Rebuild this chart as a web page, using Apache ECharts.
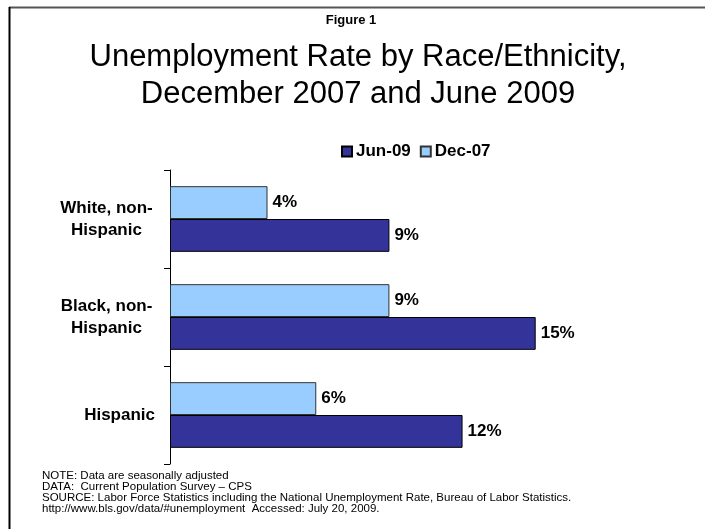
<!DOCTYPE html>
<html>
<head>
<meta charset="utf-8">
<style>
  html, body { margin: 0; padding: 0; background: #fff; }
  #chart { width: 705px; height: 529px; }
</style>
<script src="https://cdn.jsdelivr.net/npm/echarts@6/dist/echarts.min.js"></script>
</head>
<body>
<div id="chart"></div>
<script>
// Unemployment rate (%) by race/ethnicity
const categories = ['White, non-\nHispanic', 'Black, non-\nHispanic', 'Hispanic'];
const seriesNames = ['Jun-09', 'Dec-07'];
const jun09 = [9, 15, 12];
const dec07 = [4, 9, 6];
const noteLines = [
  'NOTE: Data are seasonally adjusted',
  'DATA:  Current Population Survey \u2013 CPS',
  'SOURCE: Labor Force Statistics including the National Unemployment Rate, Bureau of Labor Statistics.',
  'http://www.bls.gov/data/#unemployment  Accessed: July 20, 2009.'
];

const FONT = 'Liberation Sans, Arial, Helvetica, sans-serif';

const chart = echarts.init(document.getElementById('chart'), null, { renderer: 'canvas' });

const valueLabel = {
  show: true,
  position: 'right',
  distance: 5,
  formatter: p => p.value + '%',
  fontFamily: FONT,
  fontWeight: 'bold',
  fontSize: 17,
  color: '#000'
};

chart.setOption({
  backgroundColor: '#fff',
  animation: false,
  title: [
    {
      text: 'Figure 1',
      left: 351, top: 14, padding: 0,
      textAlign: 'center',
      textStyle: { fontFamily: FONT, fontWeight: 'bold', fontSize: 13, color: '#000', lineHeight: 13 }
    },
    {
      text: 'Unemployment Rate by Race/Ethnicity,\nDecember 2007 and June 2009',
      left: 358, top: 39, padding: 0,
      textAlign: 'center',
      textStyle: { fontFamily: FONT, fontWeight: 'normal', fontSize: 31, color: '#000', lineHeight: 37 }
    },
    {
      text: noteLines.join('\n'),
      left: 42, top: 470, padding: 0,
      textStyle: { fontFamily: FONT, fontWeight: 'normal', fontSize: 11.5, color: '#000', lineHeight: 11 }
    }
  ],
  legend: {
    data: seriesNames,
    left: 341, top: 143,
    padding: 0,
    itemWidth: 10, itemHeight: 10,
    itemGap: 9,
    icon: 'rect',
    textStyle: { fontFamily: FONT, fontWeight: 'bold', fontSize: 17, color: '#000', padding: [0, 0, 0, -1] }
  },
  grid: { left: 170, top: 170, height: 294, width: 487.6, containLabel: false },
  xAxis: {
    type: 'value', min: 0, max: 20,
    show: false
  },
  yAxis: {
    type: 'category',
    data: categories,
    inverse: true,
    axisLine: { show: true, lineStyle: { color: '#000', width: 1 } },
    axisTick: { show: true, length: 6, lineStyle: { color: '#000' } },
    axisLabel: {
      margin: 15,
      align: 'right',
      fontFamily: FONT, fontWeight: 'bold', fontSize: 17, color: '#000',
      formatter: v => v.indexOf('\n') >= 0
        ? v.split('\n').map(s => '{c|' + s + '}').join('\n')
        : '{s|' + v + '}',
      rich: {
        c: { width: 97, align: 'center', fontFamily: FONT, fontWeight: 'bold', fontSize: 17, lineHeight: 22, color: '#000' },
        s: { fontFamily: FONT, fontWeight: 'bold', fontSize: 17, lineHeight: 22, color: '#000' }
      }
    },
    splitLine: { show: false }
  },
  // Dec-07 is listed first so it sits above Jun-09 within each category
  series: [
    {
      name: 'Dec-07', type: 'bar', data: dec07,
      barGap: '0%', barCategoryGap: '33%',
      itemStyle: { color: '#99CCFF', borderColor: '#333', borderWidth: 1 },
      label: valueLabel
    },
    {
      name: 'Jun-09', type: 'bar', data: jun09,
      barGap: '0%', barCategoryGap: '33%',
      itemStyle: { color: '#333399', borderColor: '#000', borderWidth: 1 },
      label: valueLabel
    }
  ],
  graphic: [
    { type: 'line', shape: { x1: 9, y1: 7.5, x2: 705, y2: 7.5 }, style: { stroke: '#555', lineWidth: 2 }, silent: true },
    { type: 'line', shape: { x1: 9.5, y1: 7, x2: 9.5, y2: 529 }, style: { stroke: '#000', lineWidth: 2 }, silent: true }
  ]
});
</script>
</body>
</html>
